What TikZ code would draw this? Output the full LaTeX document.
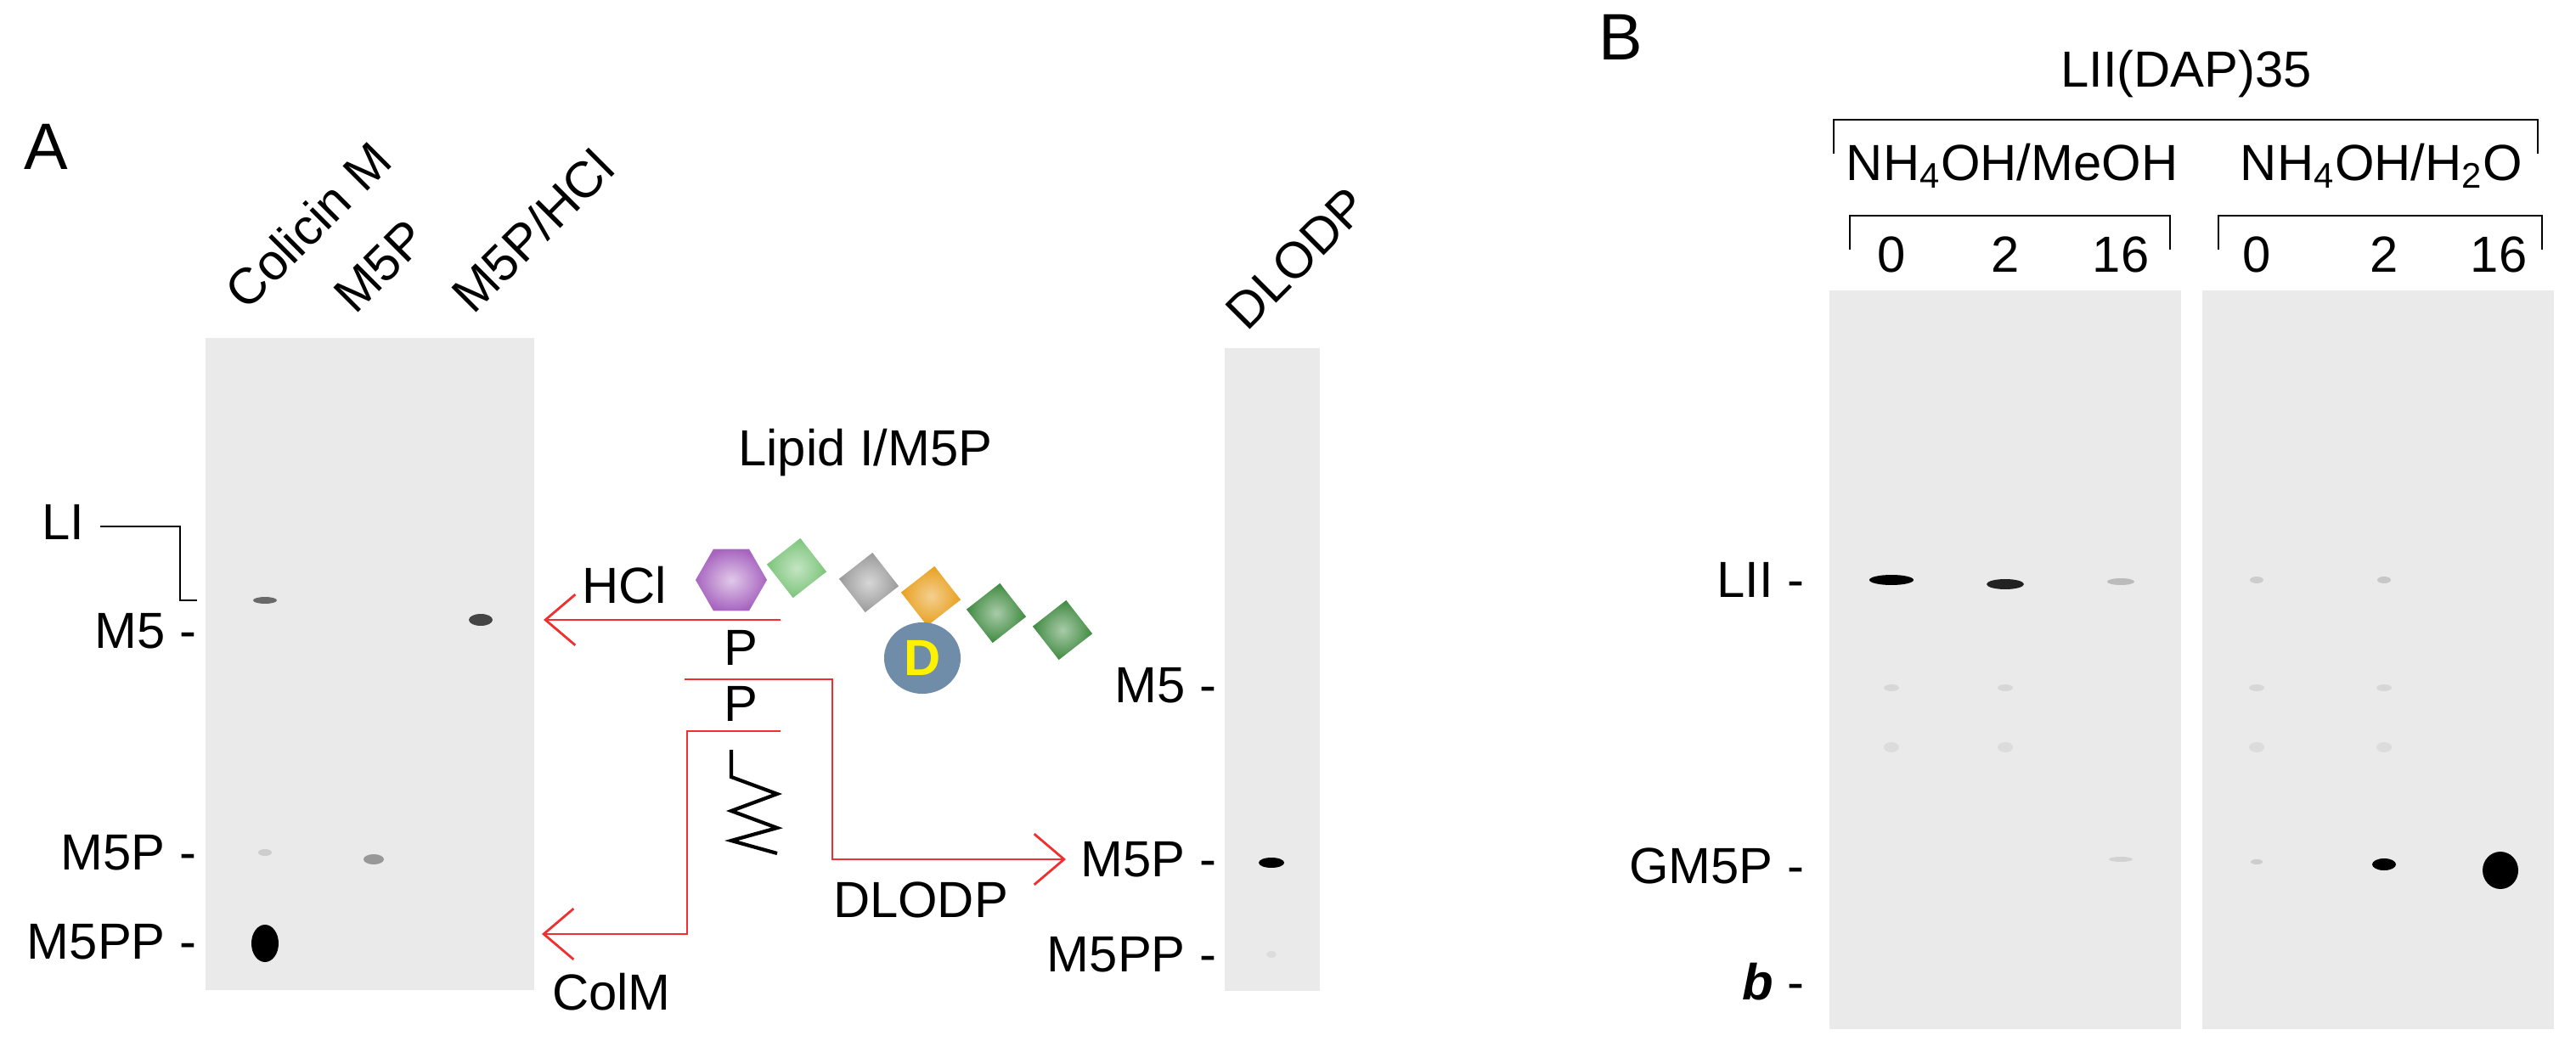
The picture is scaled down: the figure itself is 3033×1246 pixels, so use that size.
\documentclass[tikz,border=0pt]{standalone}
\usepackage{fontspec}
\setmainfont{Liberation Sans}
\usetikzlibrary{positioning,shapes.geometric,calc,arrows.meta}

\definecolor{gelgray}{HTML}{EAEAEA}
\definecolor{arrowred}{HTML}{F03030}
\definecolor{hexpurple}{HTML}{A865C0}
\definecolor{lightgreen}{HTML}{7CC47A}
\definecolor{darkgreen}{HTML}{3F8A40}
\definecolor{sugargray}{HTML}{9A9A9A}
\definecolor{sugarorange}{HTML}{E8A020}
\definecolor{dapblue}{HTML}{6F8CA8}

\tikzset{
  lbl/.style={inner sep=0pt,font=\fontsize{17}{20}\selectfont},
  gel/.style={fill=gelgray,draw=none},
  red arrow/.style={draw=arrowred,thick,-{Straight Barb[length=10pt,width=17pt]}},
  sugar/.style={draw=none,rectangle,minimum size=0.5cm,rotate=38,inner sep=0pt},
}

\newcommand{\gelspot}[5]{%
  \fill[black,opacity=#5] (#1,#2) ellipse [x radius=#3*0.01cm,y radius=#4*0.01cm];}

\begin{document}
\begin{tikzpicture}[x=0.01cm,y=-0.01cm]
\useasboundingbox (0,0) rectangle (3033,1246);

% panel A, left gel
\node[lbl,font=\fontsize{22}{24}\selectfont] (labA) at (54,173) {A};
\fill[gel] (242,398) rectangle (629,1166);
\node[lbl,rotate=45,anchor=base west] (laneCol) at (290,368) {Colicin M};
\node[lbl,rotate=45,anchor=base west] (laneM5P) at (418,372) {M5P};
\node[lbl,rotate=45,anchor=base west] (laneHCl) at (557,372) {M5P/HCl};

\gelspot{312}{707}{14}{4}{0.55}
\gelspot{566}{730}{14}{7}{0.7}
\gelspot{312}{1004}{8}{4}{0.12}
\gelspot{440}{1012}{12}{6}{0.35}
\gelspot{312}{1111}{16}{22}{1}

\node[lbl,anchor=base east] (mLI) at (100,636) {LI};
\node[lbl,anchor=east] (mM5) at (232,743) {M5 -};
\node[lbl,anchor=east] (mM5P) at (232,1004) {M5P -};
\node[lbl,anchor=east] (mM5PP) at (232,1109) {M5PP -};
\coordinate (liEnd) at (232,707);
\draw (118,620) -| (212,707) -- (liEnd);

% lipid I / M5P scheme
\node[lbl] (lipid) at (1019,533) {Lipid I/M5P};
\node[regular polygon,regular polygon sides=6,minimum size=0.84cm,inner sep=0pt,
  draw=none,inner color=hexpurple!35,outer color=hexpurple] (hex) at (861,683) {};
\node[sugar,inner color=lightgreen!45,outer color=lightgreen] (s1) at (938,669) {};
\node[sugar,inner color=sugargray!40,outer color=sugargray] (s2) at (1023,686) {};
\node[sugar,inner color=sugarorange!50,outer color=sugarorange] (s3) at (1096,702) {};
\node[sugar,inner color=darkgreen!45,outer color=darkgreen] (s4) at (1173,722) {};
\node[sugar,inner color=darkgreen!45,outer color=darkgreen] (s5) at (1251,742) {};
\node[ellipse,fill=dapblue,minimum width=0.9cm,minimum height=0.84cm,inner sep=0pt,
  text=yellow,font=\fontsize{17}{20}\selectfont\bfseries] (dap) at (1086,775) {D};

\node[lbl] (hcl) at (735,689) {HCl};
\node[lbl] (p1) at (872,763) {P};
\node[lbl] (p2) at (872,829) {P};
\node[lbl] (colm) at (720,1168) {ColM};
\node[lbl] (dlodp) at (1084,1060) {DLODP};

\coordinate (hclStart) at (919,730);
\coordinate (hclEnd) at (640,730);
\draw[red arrow] (hclStart) -- (hclEnd);
\coordinate (dlStart) at (806,800);
\coordinate (dlEnd) at (1255,1012);
\draw[red arrow] (dlStart) -| (980,1012) -- (dlEnd);
\coordinate (cmStart) at (919,861);
\coordinate (cmEnd) at (638,1100);
\draw[red arrow] (cmStart) -| (809,1100) -- (cmEnd);

% lipid tail
\draw[very thick] (861,883) -- (861,915) -- (915,935) -- (861,955) -- (915,975)
  -- (861,990) -- (915,1005);

% DLODP gel
\fill[gel] (1442,410) rectangle (1554,1167);
\node[lbl,rotate=45,anchor=base west] (laneDL) at (1468,392) {DLODP};
\gelspot{1497}{1016}{15}{6}{1}
\gelspot{1497}{1124}{6}{4}{0.06}
\node[lbl,anchor=east] (dM5) at (1433,807) {M5 -};
\node[lbl,anchor=east] (dM5P) at (1433,1012) {M5P -};
\node[lbl,anchor=east] (dM5PP) at (1433,1124) {M5PP -};

% panel B
\node[lbl,font=\fontsize{22}{24}\selectfont] (labB) at (1908,44) {B};
\node[lbl] (lii) at (2574,87) {LII(DAP)35};
\draw (2159,181) -- (2159,141) -- (2988,141) -- (2988,181);
\node[lbl] (meoh) at (2369,195) {NH\textsubscript{4}OH/MeOH};
\node[lbl] (water) at (2804,195) {NH\textsubscript{4}OH/H\textsubscript{2}O};
\draw (2178,294) -- (2178,254) -- (2555,254) -- (2555,294);
\draw (2612,294) -- (2612,254) -- (2993,254) -- (2993,294);
\foreach \x/\t [count=\i] in {2227/0,2361/2,2497/16,2657/0,2807/2,2942/16}
  \node[lbl] (t\i) at (\x,300) {\t};

\fill[gel] (2154,342) rectangle (2568,1212);
\fill[gel] (2593,342) rectangle (3007,1212);
\gelspot{2227}{683}{26}{6}{1}
\gelspot{2361}{688}{22}{6}{0.85}
\gelspot{2497}{685}{16}{4}{0.2}
\gelspot{2657}{683}{8}{4}{0.12}
\gelspot{2807}{683}{8}{4}{0.15}
\foreach \x in {2227,2361,2657,2807}{
  \gelspot{\x}{810}{9}{4}{0.08}
  \gelspot{\x}{880}{9}{6}{0.06}}
\gelspot{2497}{1012}{14}{3}{0.1}
\gelspot{2657}{1015}{7}{3}{0.12}
\gelspot{2807}{1018}{14}{7}{1}
\gelspot{2944}{1025}{21}{22}{1}
\node[lbl,anchor=east] (bLII) at (2125,683) {LII -};
\node[lbl,anchor=east] (bGM5P) at (2125,1020) {GM5P -};
\node[lbl,anchor=east] (bb) at (2125,1156) {\textbf{\textit{b}} -};
\end{tikzpicture}
\end{document}
